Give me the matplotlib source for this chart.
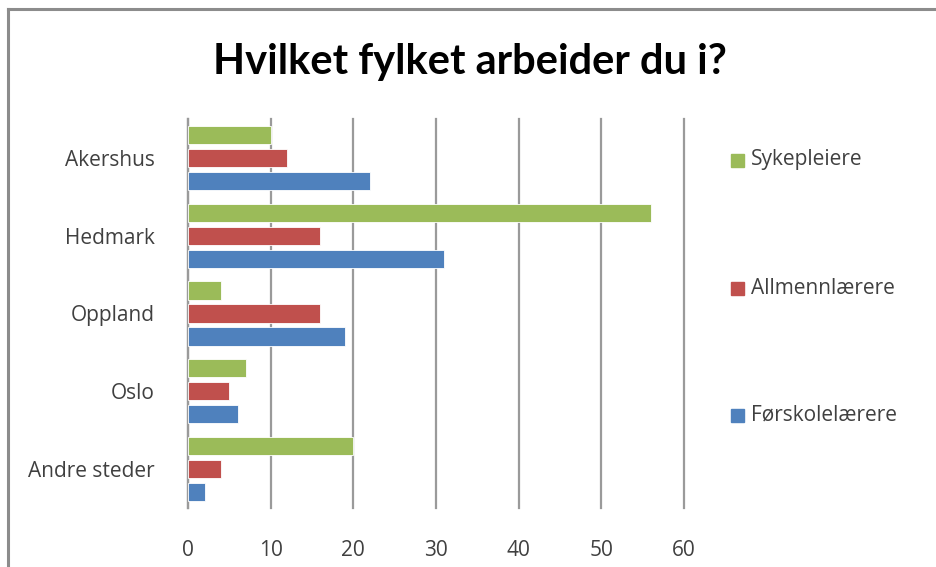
import numpy as np
import matplotlib.pyplot as plt
from matplotlib.lines import Line2D
from matplotlib.patches import Rectangle

# data
fylker = ['Akershus', 'Hedmark', 'Oppland', 'Oslo', 'Andre steder']
sykepleiere = [10, 56, 4, 7, 20]
allmennlaerere = [12, 16, 16, 5, 4]
forskolelaerere = [22, 31, 19, 6, 2]

series = [('Sykepleiere', sykepleiere, '#9BBB59'),
          ('Allmennlærere', allmennlaerere, '#C0504D'),
          ('Førskolelærere', forskolelaerere, '#4F81BD')]

plt.rcParams['font.family'] = ['Open Sans', 'DejaVu Sans']

fig = plt.figure(figsize=(9.36, 5.67), dpi=100)
# axes in pixel terms: x 188..684, y 119..508 (from top)
W, H = 936, 567
ax = fig.add_axes([188 / W, 1 - 508 / H, (684 - 188) / W, (508 - 119) / H])

y = np.arange(len(fylker))
step = 0.295
h = 0.235
for i, (name, vals, col) in enumerate(series):
    ax.barh(y + (i - 1) * step, vals, height=h, color=col, label=name,
            edgecolor='white', linewidth=0.6, zorder=3)

ax.set_xlim(0, 60)
ax.set_ylim(len(fylker) - 0.5, -0.5)
ax.set_xticks(range(0, 61, 10))
ax.set_yticks(y)
ax.set_yticklabels(fylker)
ax.xaxis.grid(True, color='#9A9A9A', linewidth=1.6, zorder=0)
for gl in ax.get_xgridlines():
    gl.set_clip_on(False)
for s in ['top', 'right', 'bottom']:
    ax.spines[s].set_visible(False)
ax.spines['left'].set_color('#9A9A9A')
ax.spines['left'].set_linewidth(1.6)
ax.tick_params(axis='both', length=0, labelsize=15, colors='#404040')
ax.tick_params(axis='y', pad=24)
ax.tick_params(axis='x', pad=23)

# legend entries spaced like the original
for (name, vals, col), ypx in zip(series, [160, 288, 415]):
    fig.patches.append(Rectangle((731 / W, 1 - (ypx + 6.5) / H), 13 / W, 13 / H,
                                 transform=fig.transFigure, color=col, figure=fig))
    fig.text(751 / W, 1 - ypx / H, name, fontsize=15, color='#404040', va='center')

fig.text(470 / W, 1 - 62 / H, 'Hvilket fylket arbeider du i?', fontsize=30,
         fontweight='bold', ha='center', va='center', family=['Lato', 'DejaVu Sans'])

# chart frame: only top and left edges are visible in the original
fig.lines.append(Line2D([8 / W, 8 / W], [0, 1 - 9 / H], transform=fig.transFigure,
                        color='#8C8C8C', linewidth=2.2))
fig.lines.append(Line2D([8 / W, 1], [1 - 9 / H, 1 - 9 / H], transform=fig.transFigure,
                        color='#8C8C8C', linewidth=2.2))

fig.savefig('out.png', dpi=100)
